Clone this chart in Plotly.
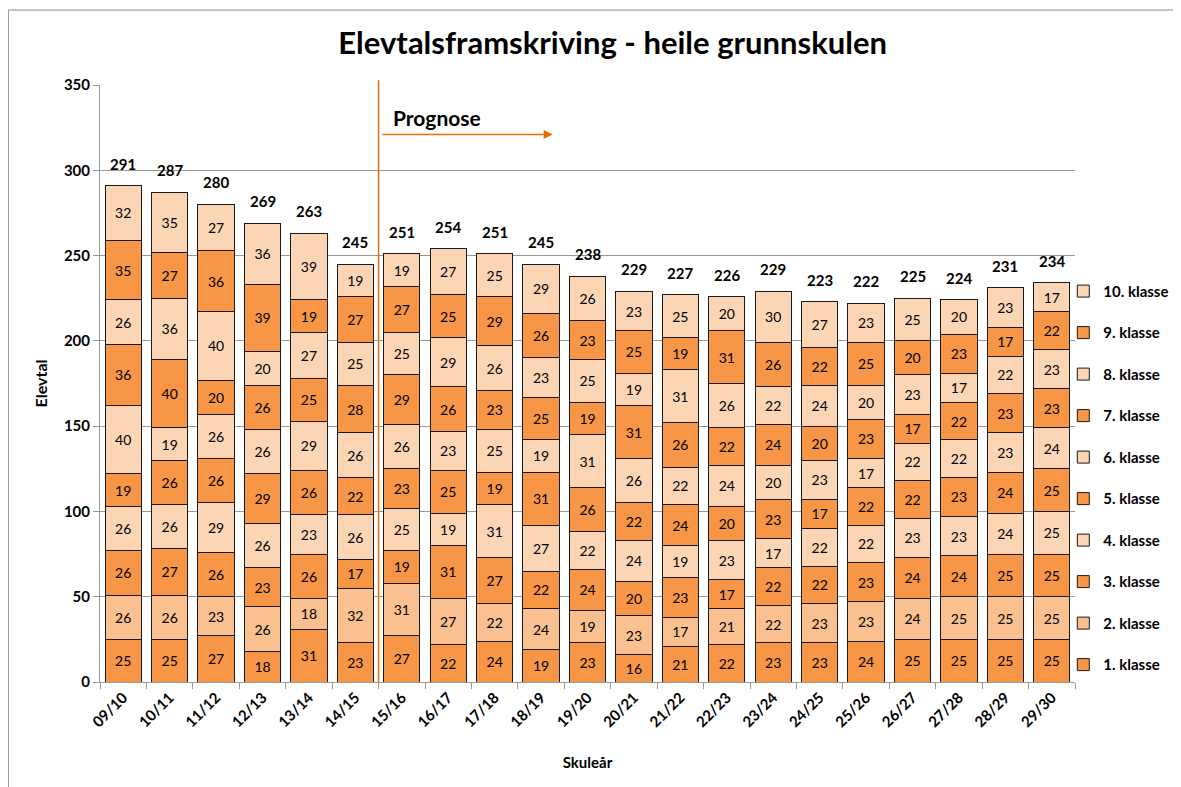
import plotly.graph_objects as go

years = ["09/10", "10/11", "11/12", "12/13", "13/14", "14/15", "15/16", "16/17", "17/18", "18/19", "19/20",
         "20/21", "21/22", "22/23", "23/24", "24/25", "25/26", "26/27", "27/28", "28/29", "29/30"]

k1 = [25, 25, 27, 18, 31, 23, 27, 22, 24, 19, 23, 16, 21, 22, 23, 23, 24, 25, 25, 25, 25]
k2 = [26, 26, 23, 26, 18, 32, 31, 27, 22, 24, 19, 23, 17, 21, 22, 23, 23, 24, 25, 25, 25]
k3 = [26, 27, 26, 23, 26, 17, 19, 31, 27, 22, 24, 20, 23, 17, 22, 22, 23, 24, 24, 25, 25]
k4 = [26, 26, 29, 26, 23, 26, 25, 19, 31, 27, 22, 24, 19, 23, 17, 22, 22, 23, 23, 24, 25]
k5 = [19, 26, 26, 29, 26, 22, 23, 25, 19, 31, 26, 22, 24, 20, 23, 17, 22, 22, 23, 24, 25]
k6 = [40, 19, 26, 26, 29, 26, 26, 23, 25, 19, 31, 26, 22, 24, 20, 23, 17, 22, 22, 23, 24]
k7 = [36, 40, 20, 26, 25, 28, 29, 26, 23, 25, 19, 31, 26, 22, 24, 20, 23, 17, 22, 23, 23]
k8 = [26, 36, 40, 20, 27, 25, 25, 29, 26, 23, 25, 19, 31, 26, 22, 24, 20, 23, 17, 22, 23]
k9 = [35, 27, 36, 39, 19, 27, 27, 25, 29, 26, 23, 25, 19, 31, 26, 22, 25, 20, 23, 17, 22]
k10 = [32, 35, 27, 36, 39, 19, 19, 27, 25, 29, 26, 23, 25, 20, 30, 27, 23, 25, 20, 23, 17]

series = [("1. klasse", k1), ("2. klasse", k2), ("3. klasse", k3), ("4. klasse", k4), ("5. klasse", k5),
          ("6. klasse", k6), ("7. klasse", k7), ("8. klasse", k8), ("9. klasse", k9), ("10. klasse", k10)]

dark = "#F79646"
mid = "#FAC090"
light = "#FCD5B5"
colors = [dark, mid, dark, light, dark, light, dark, light, dark, light]

FONT = "Lato"

fig = go.Figure()
for i, ((name, vals), col) in enumerate(zip(series, colors)):
    fig.add_trace(go.Bar(
        name=f"<b>{name}</b>", x=years, y=vals,
        marker=dict(color=col, line=dict(color="#1a1a1a", width=1)),
        text=vals, textposition="inside", insidetextanchor="middle",
        textangle=0, constraintext="none",
        textfont=dict(size=14, color="black", family=FONT),
        legendgroup=name, legendrank=1000 - i * 10,
    ))

totals = [sum(v) for v in zip(*[s[1] for s in series])]
total_labels = [
    dict(x=c, y=t, xref="x", yref="y", text=f"<b>{t}</b>", showarrow=False, yshift=22,
         font=dict(size=15, color="black", family=FONT))
    for c, t in zip(years, totals)
]

fig.update_layout(
    barmode="stack",
    bargap=0.22,
    width=1181, height=787,
    margin=dict(l=92, r=114, t=77, b=113),
    paper_bgcolor="white", plot_bgcolor="white",
    font=dict(family=FONT, color="black"),
    title=dict(text="<b>Elevtalsframskriving - heile grunnskulen</b>", x=0.512, xanchor="center",
               y=0.955, yanchor="middle", font=dict(size=31, family=FONT)),
    legend=dict(x=0.988, y=0.682, xanchor="left", yanchor="top",
                traceorder="grouped", tracegroupgap=19, font=dict(size=15, family=FONT), itemwidth=30,
                bgcolor="rgba(0,0,0,0)"),
    xaxis=dict(
        type="category", tickangle=-45, tickson="boundaries", ticks="outside", ticklen=6,
        tickcolor="#999", showline=True, linecolor="#999", linewidth=1, automargin=False,
        tickfont=dict(size=15, family=FONT), tickprefix="<b>", ticksuffix="</b>",
        title=dict(text="<b>Skuleår</b>", font=dict(size=15, family=FONT), standoff=28),
    ),
    yaxis=dict(
        range=[0, 350], dtick=50, showgrid=True, gridcolor="#999", gridwidth=1, automargin=False,
        showline=True, linecolor="#999", ticks="outside", ticklen=6, tickcolor="#999",
        tickfont=dict(size=15, family=FONT), tickprefix="<b>", ticksuffix="</b>",
        title=dict(text="<b>Elevtal</b>", font=dict(size=16, family=FONT), standoff=12),
        zeroline=False,
    ),
    shapes=[
        dict(type="line", xref="x", yref="paper", x0=5.5, x1=5.5, y0=0, y1=1.008,
             line=dict(color="#E46C0A", width=1.5)),
        dict(type="rect", xref="paper", yref="paper", x0=-0.094, x1=1.115, y0=-0.19, y1=1.1256,
             line=dict(color="#8c8c8c", width=1)),
    ],
    annotations=total_labels + [
        dict(x=9.25, y=321, ax=5.55, ay=321, xref="x", yref="y", axref="x", ayref="y",
             showarrow=True, arrowhead=2, arrowsize=1.2, arrowwidth=1.5, arrowcolor="#E46C0A", text=""),
        dict(x=5.77, y=331, xref="x", yref="y", xanchor="left", yanchor="middle", showarrow=False,
             text="<b>Prognose</b>", font=dict(size=21, family=FONT)),
    ],
)

fig.write_html("out.html")
